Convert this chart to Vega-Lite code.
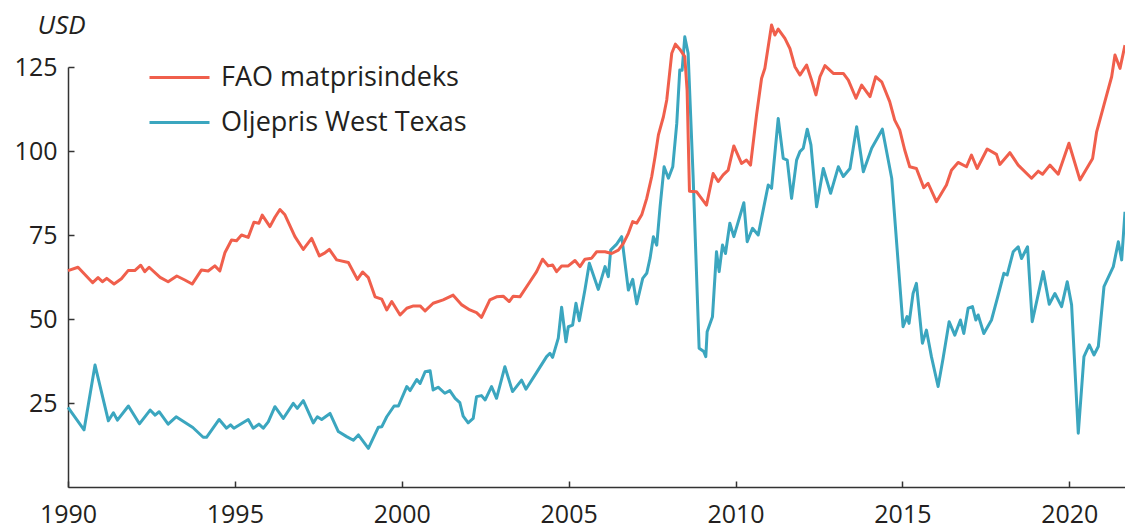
{
  "$schema": "https://vega.github.io/schema/vega-lite/v6.json",
  "width": 1057,
  "height": 420,
  "autosize": {"type": "none"},
  "padding": {"left": 68, "top": 67, "right": 0, "bottom": 44},
  "background": "white",
  "config": {"view": {"stroke": null}, "font": "Open Sans"},
  "datasets": {
    "fao": [
      {"t":1990.0,"v":64.4},{"t":1990.3,"v":65.4},{"t":1990.74,"v":60.8},{"t":1990.9,"v":62.3},{"t":1991.03,"v":61.1},{"t":1991.16,"v":62.1},{"t":1991.38,"v":60.4},{"t":1991.6,"v":62.0},{"t":1991.8,"v":64.4},{"t":1992.0,"v":64.4},{"t":1992.18,"v":66.0},{"t":1992.3,"v":64.1},{"t":1992.43,"v":65.4},{"t":1992.76,"v":62.4},{"t":1993.0,"v":61.1},{"t":1993.26,"v":62.8},{"t":1993.5,"v":61.6},{"t":1993.72,"v":60.4},{"t":1994.0,"v":64.6},{"t":1994.2,"v":64.3},{"t":1994.4,"v":65.8},{"t":1994.55,"v":64.3},{"t":1994.7,"v":69.7},{"t":1994.9,"v":73.5},{"t":1995.05,"v":73.3},{"t":1995.2,"v":75.0},{"t":1995.4,"v":74.3},{"t":1995.57,"v":78.8},{"t":1995.72,"v":78.5},{"t":1995.82,"v":80.9},{"t":1996.05,"v":77.5},{"t":1996.2,"v":80.3},{"t":1996.35,"v":82.6},{"t":1996.5,"v":81.0},{"t":1996.8,"v":74.5},{"t":1997.05,"v":70.7},{"t":1997.3,"v":74.0},{"t":1997.53,"v":68.8},{"t":1997.7,"v":69.7},{"t":1997.83,"v":70.7},{"t":1998.05,"v":67.6},{"t":1998.4,"v":66.8},{"t":1998.67,"v":61.8},{"t":1998.83,"v":64.0},{"t":1999.0,"v":62.3},{"t":1999.2,"v":56.6},{"t":1999.4,"v":55.9},{"t":1999.55,"v":52.7},{"t":1999.7,"v":55.2},{"t":1999.95,"v":51.2},{"t":2000.15,"v":53.2},{"t":2000.35,"v":53.9},{"t":2000.55,"v":53.9},{"t":2000.7,"v":52.4},{"t":2000.94,"v":54.7},{"t":2001.24,"v":55.7},{"t":2001.54,"v":57.1},{"t":2001.8,"v":54.2},{"t":2002.04,"v":52.7},{"t":2002.24,"v":51.9},{"t":2002.39,"v":50.5},{"t":2002.64,"v":55.7},{"t":2002.84,"v":56.6},{"t":2003.04,"v":56.8},{"t":2003.22,"v":55.2},{"t":2003.34,"v":56.8},{"t":2003.54,"v":56.6},{"t":2003.84,"v":61.1},{"t":2004.04,"v":64.1},{"t":2004.22,"v":67.8},{"t":2004.39,"v":65.8},{"t":2004.52,"v":66.1},{"t":2004.64,"v":64.1},{"t":2004.79,"v":65.8},{"t":2004.99,"v":65.8},{"t":2005.19,"v":67.4},{"t":2005.34,"v":65.6},{"t":2005.49,"v":67.8},{"t":2005.69,"v":68.1},{"t":2005.84,"v":70.0},{"t":2006.09,"v":70.0},{"t":2006.29,"v":69.5},{"t":2006.49,"v":70.5},{"t":2006.64,"v":72.5},{"t":2006.79,"v":75.5},{"t":2006.92,"v":79.0},{"t":2007.04,"v":78.5},{"t":2007.19,"v":81.0},{"t":2007.34,"v":85.9},{"t":2007.49,"v":92.4},{"t":2007.59,"v":98.3},{"t":2007.69,"v":104.8},{"t":2007.84,"v":110.2},{"t":2007.94,"v":115.2},{"t":2008.09,"v":129.1},{"t":2008.2,"v":131.8},{"t":2008.33,"v":130.3},{"t":2008.48,"v":128.1},{"t":2008.55,"v":118.0},{"t":2008.62,"v":88.0},{"t":2008.83,"v":87.9},{"t":2009.13,"v":83.9},{"t":2009.33,"v":93.3},{"t":2009.48,"v":90.9},{"t":2009.63,"v":92.9},{"t":2009.78,"v":94.3},{"t":2009.95,"v":101.5},{"t":2010.18,"v":96.3},{"t":2010.33,"v":97.3},{"t":2010.45,"v":95.8},{"t":2010.63,"v":110.7},{"t":2010.78,"v":121.6},{"t":2010.88,"v":124.6},{"t":2011.08,"v":137.5},{"t":2011.18,"v":134.5},{"t":2011.28,"v":136.3},{"t":2011.48,"v":133.5},{"t":2011.63,"v":130.5},{"t":2011.78,"v":125.1},{"t":2011.93,"v":122.6},{"t":2012.13,"v":125.6},{"t":2012.28,"v":121.1},{"t":2012.41,"v":116.7},{"t":2012.53,"v":122.1},{"t":2012.68,"v":125.4},{"t":2012.93,"v":123.1},{"t":2013.23,"v":123.1},{"t":2013.38,"v":121.1},{"t":2013.61,"v":115.7},{"t":2013.78,"v":119.6},{"t":2014.03,"v":116.2},{"t":2014.2,"v":122.1},{"t":2014.38,"v":120.6},{"t":2014.62,"v":114.7},{"t":2014.77,"v":109.2},{"t":2014.92,"v":106.3},{"t":2015.07,"v":100.3},{"t":2015.22,"v":95.3},{"t":2015.42,"v":94.8},{"t":2015.64,"v":89.1},{"t":2015.77,"v":90.4},{"t":2016.02,"v":84.9},{"t":2016.32,"v":89.9},{"t":2016.47,"v":94.3},{"t":2016.67,"v":96.6},{"t":2016.92,"v":95.3},{"t":2017.07,"v":98.8},{"t":2017.24,"v":94.8},{"t":2017.54,"v":100.6},{"t":2017.82,"v":99.0},{"t":2017.92,"v":96.0},{"t":2018.22,"v":99.5},{"t":2018.47,"v":95.8},{"t":2018.87,"v":91.9},{"t":2019.07,"v":94.0},{"t":2019.2,"v":93.1},{"t":2019.42,"v":95.8},{"t":2019.67,"v":93.1},{"t":2019.99,"v":102.3},{"t":2020.32,"v":91.4},{"t":2020.7,"v":97.8},{"t":2020.82,"v":105.7},{"t":2021.04,"v":113.7},{"t":2021.27,"v":122.1},{"t":2021.37,"v":128.6},{"t":2021.52,"v":124.6},{"t":2021.67,"v":131.5}
    ],
    "olje": [
      {"t":1990.0,"v":23.7},{"t":1990.48,"v":17.0},{"t":1990.81,"v":36.3},{"t":1991.21,"v":19.7},{"t":1991.36,"v":22.1},{"t":1991.48,"v":19.9},{"t":1991.81,"v":24.1},{"t":1992.14,"v":18.8},{"t":1992.46,"v":22.9},{"t":1992.61,"v":21.4},{"t":1992.73,"v":22.4},{"t":1993.0,"v":18.7},{"t":1993.24,"v":20.9},{"t":1993.74,"v":17.7},{"t":1994.05,"v":14.8},{"t":1994.15,"v":14.8},{"t":1994.53,"v":20.1},{"t":1994.75,"v":17.5},{"t":1994.87,"v":18.5},{"t":1994.97,"v":17.5},{"t":1995.4,"v":20.1},{"t":1995.55,"v":17.5},{"t":1995.72,"v":18.7},{"t":1995.85,"v":17.5},{"t":1996.0,"v":19.4},{"t":1996.2,"v":23.9},{"t":1996.45,"v":20.4},{"t":1996.75,"v":24.9},{"t":1996.87,"v":23.4},{"t":1997.05,"v":25.7},{"t":1997.35,"v":19.1},{"t":1997.47,"v":20.9},{"t":1997.6,"v":20.1},{"t":1997.85,"v":21.9},{"t":1998.1,"v":16.5},{"t":1998.35,"v":15.0},{"t":1998.55,"v":13.9},{"t":1998.7,"v":15.5},{"t":1999.0,"v":11.5},{"t":1999.3,"v":17.8},{"t":1999.4,"v":17.9},{"t":1999.55,"v":20.9},{"t":1999.77,"v":24.1},{"t":1999.9,"v":24.1},{"t":2000.15,"v":29.9},{"t":2000.25,"v":28.7},{"t":2000.45,"v":32.0},{"t":2000.55,"v":30.8},{"t":2000.7,"v":34.3},{"t":2000.85,"v":34.6},{"t":2000.94,"v":28.9},{"t":2001.09,"v":29.7},{"t":2001.29,"v":27.9},{"t":2001.44,"v":28.7},{"t":2001.6,"v":26.4},{"t":2001.74,"v":25.1},{"t":2001.84,"v":21.1},{"t":2001.99,"v":19.1},{"t":2002.14,"v":20.4},{"t":2002.24,"v":26.9},{"t":2002.39,"v":27.2},{"t":2002.5,"v":25.9},{"t":2002.69,"v":29.9},{"t":2002.84,"v":26.4},{"t":2003.09,"v":35.8},{"t":2003.32,"v":28.4},{"t":2003.59,"v":31.8},{"t":2003.72,"v":29.1},{"t":2003.99,"v":33.3},{"t":2004.34,"v":38.8},{"t":2004.44,"v":39.8},{"t":2004.52,"v":38.6},{"t":2004.69,"v":44.3},{"t":2004.79,"v":53.5},{"t":2004.92,"v":43.2},{"t":2004.99,"v":47.7},{"t":2005.12,"v":48.2},{"t":2005.22,"v":54.7},{"t":2005.32,"v":49.5},{"t":2005.49,"v":58.8},{"t":2005.62,"v":66.6},{"t":2005.89,"v":58.8},{"t":2006.09,"v":65.6},{"t":2006.19,"v":62.6},{"t":2006.26,"v":70.5},{"t":2006.44,"v":72.3},{"t":2006.59,"v":74.5},{"t":2006.79,"v":58.6},{"t":2006.92,"v":61.8},{"t":2007.04,"v":54.5},{"t":2007.22,"v":62.1},{"t":2007.34,"v":63.6},{"t":2007.44,"v":68.1},{"t":2007.54,"v":74.5},{"t":2007.64,"v":72.0},{"t":2007.74,"v":83.4},{"t":2007.86,"v":95.3},{"t":2007.99,"v":91.9},{"t":2008.12,"v":95.3},{"t":2008.24,"v":108.2},{"t":2008.33,"v":124.1},{"t":2008.4,"v":124.0},{"t":2008.48,"v":134.0},{"t":2008.58,"v":129.1},{"t":2008.73,"v":92.4},{"t":2008.91,"v":41.3},{"t":2009.05,"v":40.3},{"t":2009.11,"v":38.8},{"t":2009.15,"v":46.2},{"t":2009.31,"v":50.7},{"t":2009.43,"v":70.0},{"t":2009.51,"v":64.1},{"t":2009.61,"v":72.0},{"t":2009.7,"v":69.5},{"t":2009.83,"v":78.5},{"t":2009.95,"v":74.5},{"t":2010.25,"v":84.6},{"t":2010.35,"v":73.0},{"t":2010.51,"v":77.0},{"t":2010.68,"v":75.0},{"t":2010.98,"v":89.9},{"t":2011.08,"v":88.9},{"t":2011.28,"v":109.7},{"t":2011.43,"v":97.8},{"t":2011.55,"v":97.3},{"t":2011.68,"v":85.9},{"t":2011.83,"v":97.3},{"t":2011.93,"v":99.8},{"t":2012.03,"v":100.8},{"t":2012.15,"v":106.5},{"t":2012.26,"v":101.8},{"t":2012.43,"v":83.4},{"t":2012.63,"v":94.8},{"t":2012.85,"v":87.4},{"t":2013.08,"v":95.3},{"t":2013.23,"v":92.4},{"t":2013.43,"v":94.8},{"t":2013.63,"v":107.2},{"t":2013.83,"v":93.8},{"t":2014.08,"v":100.8},{"t":2014.4,"v":106.5},{"t":2014.68,"v":91.9},{"t":2015.02,"v":47.7},{"t":2015.14,"v":50.7},{"t":2015.2,"v":48.7},{"t":2015.32,"v":57.6},{"t":2015.42,"v":60.6},{"t":2015.6,"v":42.8},{"t":2015.72,"v":46.7},{"t":2015.87,"v":38.8},{"t":2016.07,"v":29.9},{"t":2016.22,"v":38.3},{"t":2016.4,"v":49.2},{"t":2016.57,"v":45.2},{"t":2016.74,"v":49.7},{"t":2016.84,"v":45.7},{"t":2016.97,"v":53.2},{"t":2017.1,"v":53.7},{"t":2017.2,"v":49.7},{"t":2017.27,"v":51.2},{"t":2017.44,"v":45.7},{"t":2017.67,"v":49.7},{"t":2017.87,"v":57.1},{"t":2018.04,"v":63.6},{"t":2018.14,"v":63.1},{"t":2018.32,"v":70.0},{"t":2018.47,"v":71.5},{"t":2018.57,"v":68.0},{"t":2018.75,"v":71.5},{"t":2018.89,"v":49.2},{"t":2019.22,"v":64.1},{"t":2019.4,"v":54.4},{"t":2019.57,"v":57.6},{"t":2019.77,"v":53.7},{"t":2019.94,"v":61.1},{"t":2020.07,"v":54.2},{"t":2020.27,"v":16.0},{"t":2020.44,"v":38.8},{"t":2020.6,"v":42.3},{"t":2020.74,"v":39.3},{"t":2020.87,"v":41.8},{"t":2021.04,"v":59.6},{"t":2021.32,"v":65.6},{"t":2021.47,"v":73.0},{"t":2021.57,"v":67.6},{"t":2021.67,"v":81.9}
    ]
  },
  "encoding": {
    "x": {
      "field": "t", "type": "quantitative",
      "scale": {"domain": [1990, 2021.67], "nice": false, "zero": false},
      "axis": {
        "values": [1990, 1995, 2000, 2005, 2010, 2015, 2020],
        "format": "d", "title": null, "grid": false,
        "domainColor": "#333333", "domainWidth": 1.5,
        "tickColor": "#333333", "tickWidth": 1.5, "tickSize": -6,
        "labelFontSize": 25, "labelColor": "#231f20", "labelFont": "Open Sans",
        "labelBaseline": "alphabetic", "labelPadding": 41, "labelFlush": false, "labelOverlap": false
      }
    },
    "y": {
      "field": "v", "type": "quantitative",
      "scale": {"domain": [0, 125], "nice": false, "zero": true},
      "axis": {
        "values": [25, 50, 75, 100, 125],
        "grid": false,
        "domainColor": "#333333", "domainWidth": 1.5,
        "tickColor": "#333333", "tickWidth": 1.5, "tickSize": -6,
        "labelFontSize": 25, "labelColor": "#231f20", "labelFont": "Open Sans",
        "labelPadding": 17, "labelOverlap": false,
        "title": "USD", "titleAngle": 0, "titleFontStyle": "italic", "titleFontWeight": "normal",
        "titleFontSize": 26, "titleColor": "#231f20", "titleFont": "Open Sans",
        "titleAlign": "left", "titleBaseline": "alphabetic", "titleX": -31, "titleY": -34
      }
    },
    "color": {
      "type": "nominal",
      "scale": {"domain": ["FAO matprisindeks", "Oljepris West Texas"], "range": ["#f05f4c", "#3ba6bf"]},
      "legend": {
        "orient": "none", "legendX": 80, "legendY": -21, "title": null,
        "symbolType": "stroke", "symbolSize": 3600, "symbolStrokeWidth": 3,
        "labelFontSize": 27, "labelColor": "#231f20", "labelFont": "Open Sans",
        "labelLimit": 600, "labelOffset": 10, "rowPadding": -27, "padding": 0
      }
    }
  },
  "layer": [
    {
      "data": {"name": "olje"},
      "mark": {"type": "line", "strokeWidth": 3, "clip": false, "strokeJoin": "round"},
      "encoding": {"color": {"datum": "Oljepris West Texas"}}
    },
    {
      "data": {"name": "fao"},
      "mark": {"type": "line", "strokeWidth": 3, "clip": false, "strokeJoin": "round"},
      "encoding": {"color": {"datum": "FAO matprisindeks"}}
    }
  ]
}
